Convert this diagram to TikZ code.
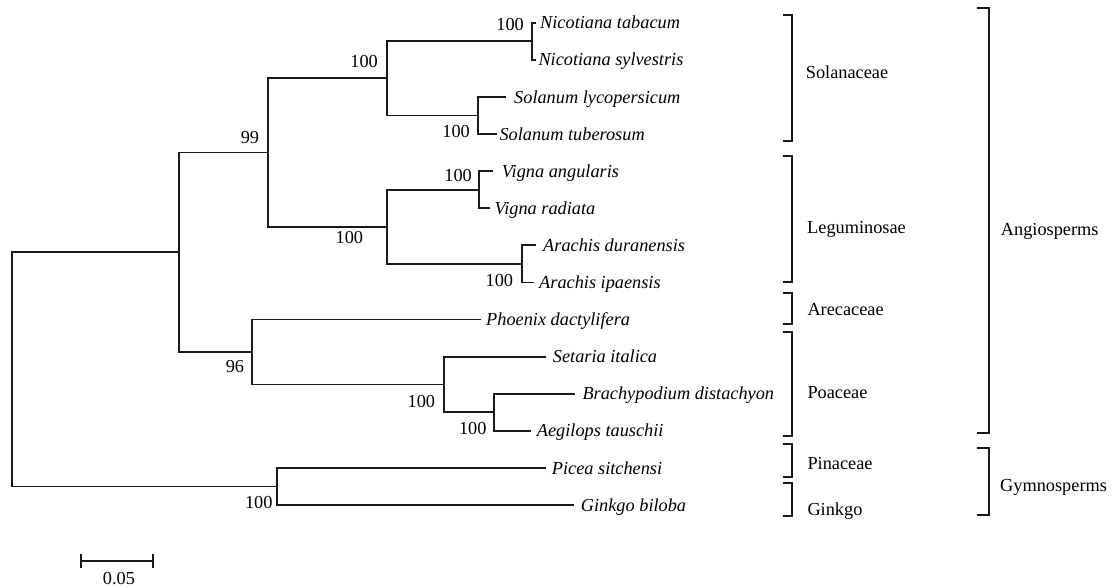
\documentclass[tikz,border=0pt]{standalone}
\usepackage{fontspec}
\setmainfont{Liberation Serif}

\begin{document}
\begin{tikzpicture}[x=1pt, y=-1pt, line join=miter,
    branch/.style={line width=1.8pt, draw=black!90},
    bracket/.style={line width=1.8pt, draw=black!90},
    taxon/.style={font=\fontsize{18.3}{22}\selectfont\itshape, anchor=base west, inner sep=0pt},
    boot/.style={font=\fontsize{18.3}{22}\selectfont, anchor=east, inner sep=0pt},
    group/.style={font=\fontsize{18.3}{22}\selectfont, anchor=base west, inner sep=0pt}]

    \useasboundingbox (0,0) rectangle (1112,587);

    % tips of the leaves
    \coordinate (tab) at (535.7,22.7);
    \coordinate (syl) at (535.7,59.8);
    \coordinate (lyc) at (505.7,96.9);
    \coordinate (tub) at (496.7,134.0);
    \coordinate (ang) at (493.3,171.1);
    \coordinate (rad) at (490.0,208.2);
    \coordinate (dur) at (535.7,245.3);
    \coordinate (ipa) at (534.0,282.4);
    \coordinate (pho) at (481.0,319.5);
    \coordinate (set) at (546.0,356.6);
    \coordinate (bdi) at (574.7,393.7);
    \coordinate (tau) at (530.7,430.8);
    \coordinate (pic) at (545.7,467.9);
    \coordinate (gin) at (574.0,505.0);

    % inner nodes
    \coordinate (nic) at (532.3,41.25);
    \coordinate (sola) at (477.7,115.45);
    \coordinate (solan) at (386.7,78.35);
    \coordinate (vig) at (479.3,189.65);
    \coordinate (ara) at (521.7,263.85);
    \coordinate (legum) at (386.7,226.75);
    \coordinate (eudi) at (268.3,152.55);
    \coordinate (brae) at (494.0,412.25);
    \coordinate (poac) at (444.0,384.4);
    \coordinate (mono) at (251.7,351.95);
    \coordinate (angio) at (179.0,252.25);
    \coordinate (gymno) at (277.0,486.45);
    \coordinate (root) at (12.0,369.35);

    % branches
    \draw[branch] (nic) |- (tab);
    \draw[branch] (nic) |- (syl);
    \draw[branch] (sola) |- (lyc);
    \draw[branch] (sola) |- (tub);
    \draw[branch] (solan) |- (nic);
    \draw[branch] (solan) |- (sola);
    \draw[branch] (vig) |- (ang);
    \draw[branch] (vig) |- (rad);
    \draw[branch] (ara) |- (dur);
    \draw[branch] (ara) |- (ipa);
    \draw[branch] (legum) |- (vig);
    \draw[branch] (legum) |- (ara);
    \draw[branch] (eudi) |- (solan);
    \draw[branch] (eudi) |- (legum);
    \draw[branch] (brae) |- (bdi);
    \draw[branch] (brae) |- (tau);
    \draw[branch] (poac) |- (set);
    \draw[branch] (poac) |- (brae);
    \draw[branch] (mono) |- (pho);
    \draw[branch] (mono) |- (poac);
    \draw[branch] (angio) |- (eudi);
    \draw[branch] (angio) |- (mono);
    \draw[branch] (gymno) |- (pic);
    \draw[branch] (gymno) |- (gin);
    \draw[branch] (root) |- (angio);
    \draw[branch] (root) |- (gymno);

    % species
    \node[taxon] (tabL) at (540.0,28.8) {Nicotiana tabacum};
    \node[taxon] (sylL) at (538.3,65.9) {Nicotiana sylvestris};
    \node[taxon] (lycL) at (514.0,103.0) {Solanum lycopersicum};
    \node[taxon] (tubL) at (499.3,140.1) {Solanum tuberosum};
    \node[taxon] (angL) at (501.7,177.2) {Vigna angularis};
    \node[taxon] (radL) at (494.3,214.3) {Vigna radiata};
    \node[taxon] (durL) at (543.0,251.4) {Arachis duranensis};
    \node[taxon] (ipaL) at (539.0,288.5) {Arachis ipaensis};
    \node[taxon] (phoL) at (486.0,325.6) {Phoenix dactylifera};
    \node[taxon] (setL) at (552.7,362.7) {Setaria italica};
    \node[taxon] (bdiL) at (582.3,399.8) {Brachypodium distachyon};
    \node[taxon] (tauL) at (536.7,436.9) {Aegilops tauschii};
    \node[taxon] (picL) at (551.7,474.0) {Picea sitchensi};
    \node[taxon] (ginL) at (580.7,511.1) {Ginkgo biloba};

    % bootstrap values
    \node[boot] (bNic) at (524.0,25.0) {100};
    \node[boot] (bSolan) at (378.0,62.0) {100};
    \node[boot] (bSola) at (470.0,131.7) {100};
    \node[boot] (bEudi) at (259.3,137.7) {99};
    \node[boot] (bLegum) at (363.3,237.3) {100};
    \node[boot] (bVig) at (472.0,175.5) {100};
    \node[boot] (bAra) at (513.3,280.0) {100};
    \node[boot] (bMono) at (244.3,366.7) {96};
    \node[boot] (bPoac) at (435.3,401.7) {100};
    \node[boot] (bBrae) at (486.7,428.3) {100};
    \node[boot] (bGymno) at (272.7,502.3) {100};

    % families
    \draw[bracket] (783.3,15.0) -| (792.3,141.0) -- (783.3,141.0);
    \draw[bracket] (783.3,155.7) -| (792.3,281.7) -- (783.3,281.7);
    \draw[bracket] (783.3,293.3) -| (792.3,324.0) -- (783.3,324.0);
    \draw[bracket] (783.3,332.3) -| (792.3,435.7) -- (783.3,435.7);
    \draw[bracket] (783.3,444.0) -| (792.3,476.7) -- (783.3,476.7);
    \draw[bracket] (783.3,483.3) -| (792.3,515.7) -- (783.3,515.7);
    \node[group] (solanaceae) at (805.7,78.3) {Solanaceae};
    \node[group] (leguminosae) at (807.0,233.3) {Leguminosae};
    \node[group] (arecaceae) at (807.3,315.0) {Arecaceae};
    \node[group] (poaceae) at (807.3,398.3) {Poaceae};
    \node[group] (pinaceae) at (807.3,469.0) {Pinaceae};
    \node[group] (ginkgo) at (807.3,515.0) {Ginkgo};

    % seed plant groups
    \draw[bracket] (976.7,7.7) -| (988.7,433.3) -- (976.7,433.3);
    \draw[bracket] (976.7,448.3) -| (988.7,515.0) -- (976.7,515.0);
    \node[group] (angiosperms) at (1000.7,235.0) {Angiosperms};
    \node[group] (gymnosperms) at (1000.0,491.7) {Gymnosperms};

    % scale bar
    \coordinate (sbL) at (80.7,560.7);
    \coordinate (sbR) at (152.7,560.7);
    \draw[branch] (sbL) -- (sbR);
    \draw[branch] ([yshift=7pt]sbL) -- ([yshift=-7pt]sbL);
    \draw[branch] ([yshift=7pt]sbR) -- ([yshift=-7pt]sbR);
    \node[boot, anchor=base] (scale) at (119.0,584.5) {0.05};

\end{tikzpicture}
\end{document}
